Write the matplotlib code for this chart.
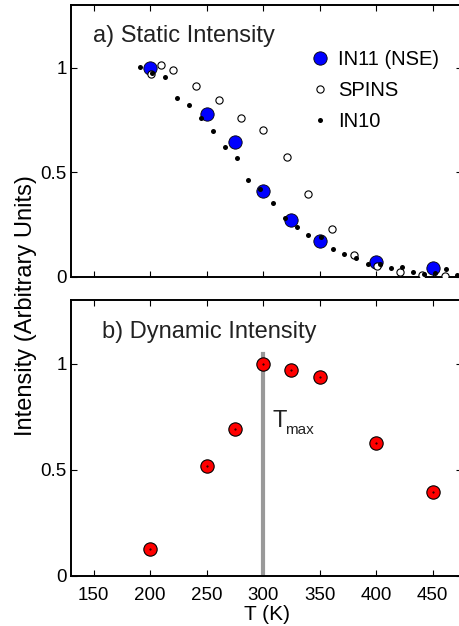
import numpy as np
import matplotlib.pyplot as plt

plt.rcParams['font.family'] = ['Liberation Sans', 'DejaVu Sans']

# a) static intensity
in11_T = [200, 250, 275, 300, 325, 350, 400, 450]
in11_I = [1.0, 0.78, 0.645, 0.41, 0.273, 0.17, 0.072, 0.045]

spins_T = [200.6, 210, 220.7, 240.5, 260.7, 280, 300, 320.7, 340, 360.7,
           380.5, 400.5, 420.7, 440.5, 461]
spins_I = [0.968, 1.014, 0.99, 0.912, 0.846, 0.758, 0.701, 0.575, 0.398, 0.228,
           0.106, 0.053, 0.026, 0.01, 0.003]

in10_T = [191.4, 201.5, 213, 223.7, 234.3, 244.7, 255.3, 266, 277, 287,
          297.6, 308.6, 319, 329.6, 340, 351, 361.5, 372, 382, 392.5,
          403, 413, 422.5, 432.5, 442.6, 452, 461.8, 471.6]
in10_I = [1.006, 0.973, 0.955, 0.856, 0.823, 0.761, 0.70, 0.621, 0.568, 0.464,
          0.422, 0.355, 0.283, 0.238, 0.199, 0.189, 0.132, 0.109, 0.093, 0.061,
          0.064, 0.045, 0.05, 0.026, 0.016, 0.021, 0.04, 0.01]

# b) dynamic intensity
dyn_T = [200, 250, 275, 300, 325, 350, 400, 450]
dyn_I = [0.126, 0.517, 0.692, 1.0, 0.972, 0.935, 0.627, 0.395]
t_max = 300

W, H = 459, 626
fig = plt.figure(figsize=(W / 100, H / 100), dpi=100)
left, right = 71 / W, 462 / W
ax1 = fig.add_axes([left, 1 - 277 / H, right - left, (277 - 5) / H])
ax2 = fig.add_axes([left, 1 - 576 / H, right - left, (576 - 300) / H])

ax1.plot(in11_T, in11_I, 'o', ms=9.6, mfc='#0000ff', mec='black', mew=0.6,
         label='IN11 (NSE)', zorder=3)
ax1.plot(spins_T, spins_I, 'o', ms=5.2, mfc='white', mec='black', mew=0.8,
         label='SPINS', zorder=4)
ax1.plot(in10_T, in10_I, 'o', ms=3.6, mfc='black', mec='black', mew=0,
         label='IN10', zorder=5)
ax1.legend(loc='upper left', bbox_to_anchor=(0.596, 0.835), frameon=False,
           fontsize=14.5, handletextpad=0.1, labelspacing=0.6, borderpad=0,
           borderaxespad=0, handlelength=1.6)
ax1.text(0.056, 0.925, 'a) Static Intensity', transform=ax1.transAxes,
         fontsize=17, va='top', ha='left', color='#222222')

ax2.plot([t_max, t_max], [0, 1.047], color='#999999', lw=3, zorder=2)
ax2.plot(dyn_T, dyn_I, 'o', ms=9.6, mfc='#ff0000', mec='black', mew=0.8,
         zorder=3)
ax2.plot(dyn_T, dyn_I, '.', ms=1, color='black', zorder=4)
ax2.text(308.5, 0.70, 'T', fontsize=17, color='#222222')
ax2.text(319.5, 0.67, 'max', fontsize=11, color='#222222')
ax2.text(0.079, 0.925, 'b) Dynamic Intensity', transform=ax2.transAxes,
         fontsize=17, va='top', ha='left', color='#222222')
ax2.set_xlabel('T (K)', fontsize=15, labelpad=1)

for ax in (ax1, ax2):
    ax.set_xlim(130, 476)
    ax.set_ylim(0, 1.3)
    ax.set_xticks([150, 200, 250, 300, 350, 400, 450])
    ax.set_yticks([0, 0.5, 1])
    ax.set_yticklabels(['0', '0.5', '1'])
    ax.tick_params(direction='in', length=4, width=0.8, top=True, right=True,
                   labelsize=13.5)
    ax.tick_params(axis='x', pad=8)
    ax.tick_params(axis='y', pad=3)
    for s in ax.spines.values():
        s.set_linewidth(1.4)
ax1.set_xticklabels([])

fig.text(26 / W, 1 - 306 / H, 'Intensity (Arbitrary Units)', rotation=90,
         fontsize=17, va='center', ha='center')

fig.savefig('out.png', dpi=100)
